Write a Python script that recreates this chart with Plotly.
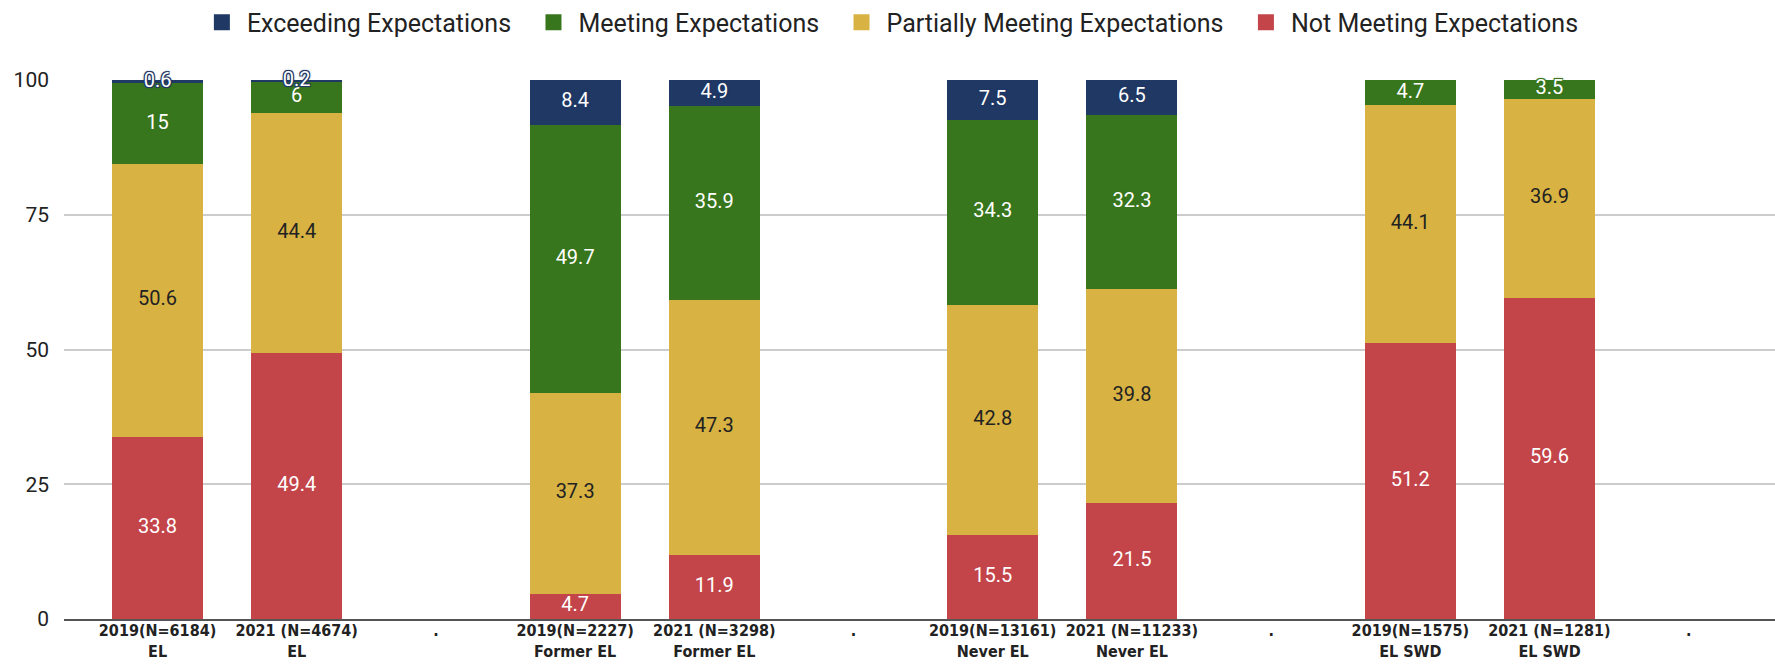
import plotly.graph_objects as go

categories = [
    "2019(N=6184)<br>EL", "2021 (N=4674)<br>EL", ".",
    "2019(N=2227)<br>Former EL", "2021 (N=3298)<br>Former EL", ".",
    "2019(N=13161)<br>Never EL", "2021 (N=11233)<br>Never EL", ".",
    "2019(N=1575)<br>EL SWD", "2021 (N=1281)<br>EL SWD", ".",
]

not_meeting = [33.8, 49.4, None, 4.7, 11.9, None, 15.5, 21.5, None, 51.2, 59.6, None]
partially = [50.6, 44.4, None, 37.3, 47.3, None, 42.8, 39.8, None, 44.1, 36.9, None]
meeting = [15, 6, None, 49.7, 35.9, None, 34.3, 32.3, None, 4.7, 3.5, None]
exceeding = [0.6, 0.2, None, 8.4, 4.9, None, 7.5, 6.5, None, None, None, None]

series = [
    ("Not Meeting Expectations", not_meeting, "#c3454a", "#ffffff"),
    ("Partially Meeting Expectations", partially, "#d8b343", "#222222"),
    ("Meeting Expectations", meeting, "#38761d", "#ffffff"),
    ("Exceeding Expectations", exceeding, "#1f3864", "#ffffff"),
]
legend_order = [3, 2, 1, 0]

x = list(range(len(categories)))
fig = go.Figure()

base = [0.0] * len(x)
for name, vals, color, tcol in series:
    fig.add_trace(go.Bar(
        x=x, y=vals, name=name, marker=dict(color=color, line=dict(width=0)),
        width=0.654, showlegend=False, hoverinfo="skip",
    ))
    mids, texts = [], []
    for i, v in enumerate(vals):
        if v is None:
            mids.append(None); texts.append("")
        else:
            mids.append(base[i] + v / 2)
            texts.append(f"{v:g}")
            base[i] += v
    sh = (f"1px 1px 0 {color}, -1px -1px 0 {color}, 1px -1px 0 {color}, -1px 1px 0 {color}, "
          f"0 0 3px {color}")
    fig.add_trace(go.Scatter(
        x=x, y=mids, text=texts, mode="text", showlegend=False, hoverinfo="skip",
        cliponaxis=False,
        textfont=dict(family="Roboto", size=20, color=tcol, shadow=sh),
    ))

for idx in legend_order:
    name, vals, color, tcol = series[idx]
    fig.add_trace(go.Scatter(
        x=[None], y=[None], mode="markers", name=name + "\u00a0\u00a0",
        marker=dict(symbol="square", size=16, color=color),
    ))

fig.update_layout(
    width=1775, height=665,
    margin=dict(l=64, r=0, t=80, b=46, autoexpand=False),
    barmode="stack",
    plot_bgcolor="#ffffff", paper_bgcolor="#ffffff",
    font=dict(family="Roboto", color="#222222"),
    legend=dict(
        orientation="h", xref="container", yref="container",
        x=0.505, y=0.966, xanchor="center", yanchor="middle",
        font=dict(family="Roboto", size=25, color="#222222"),
        traceorder="normal", itemwidth=40,
    ),
    xaxis=dict(
        range=[-0.672, 11.62], tickvals=x, ticktext=categories,
        showgrid=False, zeroline=False, showline=True, linecolor="#555555", linewidth=2,
        tickfont=dict(family="DejaVu Sans Condensed", size=16, color="#222222",
                      weight="bold"),
        ticks="", tickangle=0, automargin=False, fixedrange=True,
        ticklabelstandoff=-4,
    ),
    yaxis=dict(
        range=[0, 100], tickvals=[0, 25, 50, 75, 100],
        showgrid=True, gridcolor="#cccccc", gridwidth=1.5,
        zeroline=False, ticks="", ticklabelstandoff=14, automargin=False,
        tickfont=dict(family="Roboto", size=21, color="#222222"),
    ),
)

fig.write_html("out.html", config={"displayModeBar": False},
               post_script="document.body.style.margin='0';")
